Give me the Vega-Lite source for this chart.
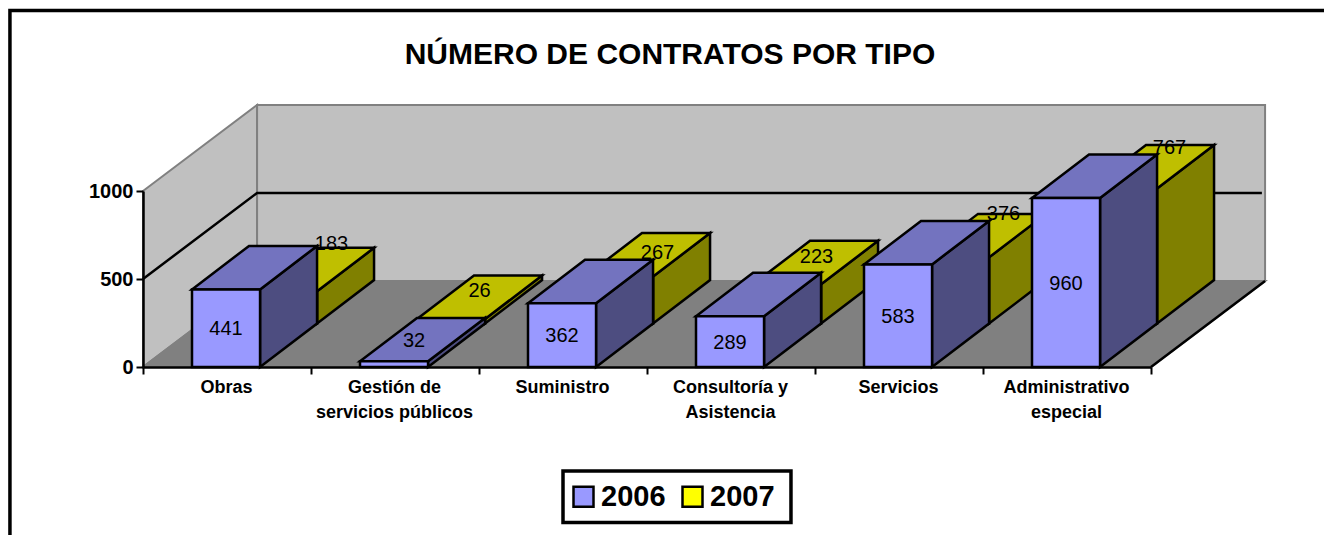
{"$schema":"https://vega.github.io/schema/vega-lite/v6.json","width":1008,"height":176,"autosize":{"type":"none"},"padding":{"left":143,"top":191,"right":173,"bottom":168},"background":"white","config":{"view":{"stroke":null},"font":"Liberation Sans"},"title":{"text":"NÚMERO DE CONTRATOS POR TIPO","font":"Liberation Sans","fontSize":30,"fontWeight":"bold","color":"black","anchor":"middle","frame":"group","dx":23,"offset":-61},"data":{"values":[{"categoria":"Obras","idx":0,"serie":"2006","contratos":441},{"categoria":"Gestión de servicios públicos","idx":1,"serie":"2006","contratos":32},{"categoria":"Suministro","idx":2,"serie":"2006","contratos":362},{"categoria":"Consultoría y Asistencia","idx":3,"serie":"2006","contratos":289},{"categoria":"Servicios","idx":4,"serie":"2006","contratos":583},{"categoria":"Administrativo especial","idx":5,"serie":"2006","contratos":960},{"categoria":"Obras","idx":0,"serie":"2007","contratos":183},{"categoria":"Gestión de servicios públicos","idx":1,"serie":"2007","contratos":26},{"categoria":"Suministro","idx":2,"serie":"2007","contratos":267},{"categoria":"Consultoría y Asistencia","idx":3,"serie":"2007","contratos":223},{"categoria":"Servicios","idx":4,"serie":"2007","contratos":376},{"categoria":"Administrativo especial","idx":5,"serie":"2007","contratos":767}]},"transform":[{"calculate":"datum.serie=='2007'?1:0","as":"s"},{"calculate":"datum.idx+0.2917+datum.s*0.3393","as":"x0"},{"calculate":"datum.x0+0.405","as":"x1"},{"calculate":"datum.s*247","as":"base"},{"calculate":"datum.base+datum.contratos","as":"yf"},{"calculate":"0","as":"t0"},{"calculate":"1","as":"t1"},{"fold":["t0","t1"],"as":["vert","t"]},{"calculate":"datum.x1+datum.t*0.3393","as":"sx"},{"calculate":"datum.yf+datum.t*247","as":"sy"},{"calculate":"datum.base+datum.t*247","as":"sb"},{"calculate":"datum.x0+datum.t*0.3393","as":"tx0"},{"calculate":"datum.x1+datum.t*0.3393","as":"tx1"},{"calculate":"(datum.x0+datum.x1)/2","as":"fcx"},{"calculate":"(datum.yf+datum.base)/2","as":"fcy"},{"calculate":"datum.fcx+0.1697","as":"tcx"},{"calculate":"datum.yf+123.5","as":"tcy"}],"layer":[{"data":{"values":[{"x":-0.792,"x2":7.3,"y":2026,"y2":-1000},{"x":2.5,"x2":3.857,"y":-591,"y2":-883.5}]},"mark":{"type":"rect","fill":"transparent","stroke":"black","strokeWidth":3.5},"encoding":{"x":{"field":"x","type":"quantitative","scale":{"domain":[0,6],"nice":false,"zero":false},"axis":null},"x2":{"field":"x2"},"y":{"field":"y","type":"quantitative","scale":{"domain":[0,1000],"nice":false,"zero":false},"axis":null},"y2":{"field":"y2"}}},{"data":{"values":[{"x":0,"y":1000,"y2":0},{"x":0.679,"y":1489,"y2":489}]},"mark":{"type":"area","fill":"#C0C0C0","stroke":"#808080","strokeWidth":2},"encoding":{"x":{"field":"x","type":"quantitative","scale":{"domain":[0,6],"nice":false,"zero":false},"axis":null},"y":{"field":"y","type":"quantitative","scale":{"domain":[0,1000],"nice":false,"zero":false},"axis":null},"y2":{"field":"y2"}}},{"data":{"values":[{"x":0.679,"x2":6.679,"y":1489,"y2":489}]},"mark":{"type":"rect","fill":"#C0C0C0","stroke":"#808080","strokeWidth":2},"encoding":{"x":{"field":"x","type":"quantitative","scale":{"domain":[0,6],"nice":false,"zero":false},"axis":null},"x2":{"field":"x2"},"y":{"field":"y","type":"quantitative","scale":{"domain":[0,1000],"nice":false,"zero":false},"axis":null},"y2":{"field":"y2"}}},{"data":{"values":[{"y":0,"x":0,"x2":6},{"y":489,"x":0.679,"x2":6.679}]},"mark":{"type":"area","orient":"horizontal","fill":"#808080","stroke":"#808080","strokeWidth":2},"encoding":{"y":{"field":"y","type":"quantitative","scale":{"domain":[0,1000],"nice":false,"zero":false},"axis":null},"x":{"field":"x","type":"quantitative","scale":{"domain":[0,6],"nice":false,"zero":false},"axis":null},"x2":{"field":"x2"}}},{"data":{"values":[{"x":0,"y":500},{"x":0.679,"y":989},{"x":6.66,"y":989}]},"mark":{"type":"line","color":"black","strokeWidth":2.5},"encoding":{"x":{"field":"x","type":"quantitative","scale":{"domain":[0,6],"nice":false,"zero":false},"axis":null},"y":{"field":"y","type":"quantitative","scale":{"domain":[0,1000],"nice":false,"zero":false},"axis":null}}},{"data":{"values":[{"x":6,"y":0},{"x":6.679,"y":489}]},"mark":{"type":"line","color":"black","strokeWidth":2.5},"encoding":{"x":{"field":"x","type":"quantitative","scale":{"domain":[0,6],"nice":false,"zero":false},"axis":null},"y":{"field":"y","type":"quantitative","scale":{"domain":[0,1000],"nice":false,"zero":false},"axis":null}}},{"transform":[{"filter":"datum.serie=='2007'"}],"mark":{"type":"area","fill":"#808000","stroke":"black","strokeWidth":2.5},"encoding":{"detail":{"field":"categoria"},"x":{"field":"sx","type":"quantitative","scale":{"domain":[0,6],"nice":false,"zero":false},"axis":null},"y":{"field":"sy","type":"quantitative","scale":{"domain":[0,1000],"nice":false,"zero":false},"axis":null},"y2":{"field":"sb"}}},{"transform":[{"filter":"datum.serie=='2007'"}],"mark":{"type":"area","orient":"horizontal","fill":"#BFBF00","stroke":"black","strokeWidth":2.5},"encoding":{"detail":{"field":"categoria"},"y":{"field":"sy","type":"quantitative","scale":{"domain":[0,1000],"nice":false,"zero":false},"axis":null},"x":{"field":"tx0","type":"quantitative","scale":{"domain":[0,6],"nice":false,"zero":false},"axis":null},"x2":{"field":"tx1"}}},{"transform":[{"filter":"datum.serie=='2007' && datum.t==0"}],"mark":{"type":"rect","stroke":"black","strokeWidth":2.5},"encoding":{"x":{"field":"x0","type":"quantitative","scale":{"domain":[0,6],"nice":false,"zero":false},"axis":{"orient":"bottom","values":[0.5,1.5,2.5,3.5,4.5,5.5],"title":null,"domain":false,"ticks":false,"grid":false,"labelFontSize":18,"labelFontWeight":"bold","labelFont":"Liberation Sans","labelColor":"black","labelPadding":20,"labelOffset":-1,"labelLineHeight":25,"labelBaseline":"middle","labelExpr":"datum.value==0.5?'Obras':datum.value==1.5?['Gestión de','servicios públicos']:datum.value==2.5?'Suministro':datum.value==3.5?['Consultoría y','Asistencia']:datum.value==4.5?'Servicios':['Administrativo','especial']","labelOverlap":false,"labelFlush":false,"zindex":1}},"x2":{"field":"x1"},"y":{"field":"yf","type":"quantitative","scale":{"domain":[0,1000],"nice":false,"zero":false},"axis":null},"y2":{"field":"base"},"fill":{"field":"serie","type":"nominal","scale":{"domain":["2006","2007"],"range":["#9999FF","#FFFF00"]},"legend":{"title":null,"orient":"none","legendX":426,"legendY":291,"direction":"horizontal","columns":2,"columnPadding":11,"padding":0,"symbolType":"square","symbolSize":400,"symbolStrokeWidth":2.5,"symbolStrokeColor":"black","symbolOpacity":1,"labelFontSize":29,"labelFontWeight":"bold","labelFont":"Liberation Sans","labelColor":"black","labelOffset":3}}}},{"transform":[{"filter":"datum.serie=='2006'"}],"mark":{"type":"area","fill":"#4D4D80","stroke":"black","strokeWidth":2.5},"encoding":{"detail":{"field":"categoria"},"x":{"field":"sx","type":"quantitative","scale":{"domain":[0,6],"nice":false,"zero":false},"axis":null},"y":{"field":"sy","type":"quantitative","scale":{"domain":[0,1000],"nice":false,"zero":false},"axis":null},"y2":{"field":"sb"}}},{"transform":[{"filter":"datum.serie=='2006'"}],"mark":{"type":"area","orient":"horizontal","fill":"#7373BF","stroke":"black","strokeWidth":2.5},"encoding":{"detail":{"field":"categoria"},"y":{"field":"sy","type":"quantitative","scale":{"domain":[0,1000],"nice":false,"zero":false},"axis":null},"x":{"field":"tx0","type":"quantitative","scale":{"domain":[0,6],"nice":false,"zero":false},"axis":null},"x2":{"field":"tx1"}}},{"transform":[{"filter":"datum.serie=='2006' && datum.t==0"}],"mark":{"type":"rect","stroke":"black","strokeWidth":2.5},"encoding":{"x":{"field":"x0","type":"quantitative","scale":{"domain":[0,6],"nice":false,"zero":false},"axis":{"orient":"bottom","values":[0,1,2,3,4,5,6],"title":null,"labels":false,"grid":false,"domainColor":"black","domainWidth":2.5,"tickColor":"black","tickWidth":2,"tickSize":7,"zindex":1}},"x2":{"field":"x1"},"y":{"field":"yf","type":"quantitative","scale":{"domain":[0,1000],"nice":false,"zero":false},"axis":{"orient":"left","values":[0,500,1000],"format":"d","title":null,"grid":false,"domainColor":"black","domainWidth":2.5,"tickColor":"black","tickWidth":2,"tickSize":7,"labelFontSize":20,"labelFontWeight":"bold","labelFont":"Liberation Sans","labelColor":"black","labelPadding":3,"zindex":1}},"y2":{"field":"base"},"fill":{"field":"serie","type":"nominal","scale":{"domain":["2006","2007"],"range":["#9999FF","#FFFF00"]}}}},{"transform":[{"filter":"datum.serie=='2006' && datum.t==0 && datum.contratos!=32"}],"mark":{"type":"text","fontSize":20,"font":"Liberation Sans","color":"black","dy":1},"encoding":{"x":{"field":"fcx","type":"quantitative","scale":{"domain":[0,6],"nice":false,"zero":false},"axis":null},"y":{"field":"fcy","type":"quantitative","scale":{"domain":[0,1000],"nice":false,"zero":false},"axis":null},"text":{"field":"contratos","type":"quantitative"}}},{"transform":[{"filter":"datum.serie=='2006' && datum.t==0 && datum.contratos==32"}],"mark":{"type":"text","fontSize":20,"font":"Liberation Sans","color":"black","dx":20,"dy":-23},"encoding":{"x":{"field":"fcx","type":"quantitative","scale":{"domain":[0,6],"nice":false,"zero":false},"axis":null},"y":{"field":"fcy","type":"quantitative","scale":{"domain":[0,1000],"nice":false,"zero":false},"axis":null},"text":{"field":"contratos","type":"quantitative"}}},{"transform":[{"filter":"datum.serie=='2007' && datum.t==0 && datum.idx==0"}],"mark":{"type":"text","fontSize":20,"font":"Liberation Sans","color":"black","dx":20,"dy":-26},"encoding":{"x":{"field":"tcx","type":"quantitative","scale":{"domain":[0,6],"nice":false,"zero":false},"axis":null},"y":{"field":"tcy","type":"quantitative","scale":{"domain":[0,1000],"nice":false,"zero":false},"axis":null},"text":{"field":"contratos","type":"quantitative"}}},{"transform":[{"filter":"datum.serie=='2007' && datum.t==0 && datum.idx==1"}],"mark":{"type":"text","fontSize":20,"font":"Liberation Sans","color":"black","dx":0,"dy":-6},"encoding":{"x":{"field":"tcx","type":"quantitative","scale":{"domain":[0,6],"nice":false,"zero":false},"axis":null},"y":{"field":"tcy","type":"quantitative","scale":{"domain":[0,1000],"nice":false,"zero":false},"axis":null},"text":{"field":"contratos","type":"quantitative"}}},{"transform":[{"filter":"datum.serie=='2007' && datum.t==0 && datum.idx==2"}],"mark":{"type":"text","fontSize":20,"font":"Liberation Sans","color":"black","dx":10,"dy":-2},"encoding":{"x":{"field":"tcx","type":"quantitative","scale":{"domain":[0,6],"nice":false,"zero":false},"axis":null},"y":{"field":"tcy","type":"quantitative","scale":{"domain":[0,1000],"nice":false,"zero":false},"axis":null},"text":{"field":"contratos","type":"quantitative"}}},{"transform":[{"filter":"datum.serie=='2007' && datum.t==0 && datum.idx==3"}],"mark":{"type":"text","fontSize":20,"font":"Liberation Sans","color":"black","dx":1,"dy":-6},"encoding":{"x":{"field":"tcx","type":"quantitative","scale":{"domain":[0,6],"nice":false,"zero":false},"axis":null},"y":{"field":"tcy","type":"quantitative","scale":{"domain":[0,1000],"nice":false,"zero":false},"axis":null},"text":{"field":"contratos","type":"quantitative"}}},{"transform":[{"filter":"datum.serie=='2007' && datum.t==0 && datum.idx==4"}],"mark":{"type":"text","fontSize":20,"font":"Liberation Sans","color":"black","dx":20,"dy":-22},"encoding":{"x":{"field":"tcx","type":"quantitative","scale":{"domain":[0,6],"nice":false,"zero":false},"axis":null},"y":{"field":"tcy","type":"quantitative","scale":{"domain":[0,1000],"nice":false,"zero":false},"axis":null},"text":{"field":"contratos","type":"quantitative"}}},{"transform":[{"filter":"datum.serie=='2007' && datum.t==0 && datum.idx==5"}],"mark":{"type":"text","fontSize":20,"font":"Liberation Sans","color":"black","dx":18,"dy":-19},"encoding":{"x":{"field":"tcx","type":"quantitative","scale":{"domain":[0,6],"nice":false,"zero":false},"axis":null},"y":{"field":"tcy","type":"quantitative","scale":{"domain":[0,1000],"nice":false,"zero":false},"axis":null},"text":{"field":"contratos","type":"quantitative"}}}],"resolve":{"axis":{"x":"independent","y":"independent"}}}
